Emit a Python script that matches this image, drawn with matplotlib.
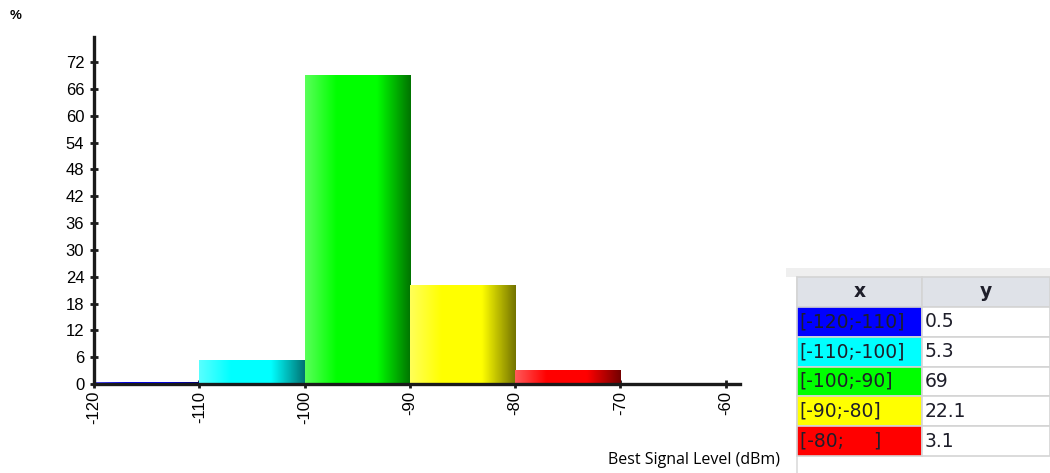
import numpy as np
import matplotlib.pyplot as plt
from matplotlib.colors import LinearSegmentedColormap, to_rgb
from matplotlib.patches import Rectangle

# bin edges (dBm) and share of samples (%)
bin_left = [-120, -110, -100, -90, -80]
bin_width = [10, 10, 10, 10, 10]
percent = [0.5, 5.3, 69, 22.1, 3.1]
bar_colors = ['#0000ff', '#00ffff', '#00ff00', '#ffff00', '#ff0000']
table_x = ['[-120;-110]', '[-110;-100]', '[-100;-90]', '[-90;-80]', '[-80;     ]']
table_y = ['0.5', '5.3', '69', '22.1', '3.1']

yticks = list(range(0, 73, 6))
xticks = [-120, -110, -100, -90, -80, -70, -60]

plt.rcParams['font.family'] = ['Liberation Sans', 'DejaVu Sans']

W, H = 1050, 473
fig = plt.figure(figsize=(W / 100, H / 100), dpi=100)


def px(x0, y0, x1, y1):
    """pixel box (top-left origin) -> figure rect"""
    return [x0 / W, 1 - y1 / H, (x1 - x0) / W, (y1 - y0) / H]


ax = fig.add_axes(px(94, 37, 740, 384))

bars = ax.bar(bin_left, percent, width=bin_width, align='edge',
              facecolor='none', edgecolor='none')


def shaded_cmap(c):
    r, g, b = to_rgb(c)
    light = (r + (1 - r) * 0.35, g + (1 - g) * 0.35, b + (1 - b) * 0.35)
    dark = (r * 0.45, g * 0.45, b * 0.45)
    return LinearSegmentedColormap.from_list(
        'shade', [(0, light), (0.3, (r, g, b)), (0.68, (r, g, b)), (1, dark)])


grad = np.linspace(0, 1, 256).reshape(1, -1)
for rect, col in zip(bars, bar_colors):
    x0, y0 = rect.get_x(), rect.get_y()
    im = ax.imshow(grad, cmap=shaded_cmap(col), aspect='auto',
                   extent=[x0, x0 + rect.get_width(), y0, y0 + rect.get_height()],
                   zorder=2)
    im.set_clip_path(rect)
ax.set_xlim(-120, -58.65)
ax.set_ylim(0, 77.6)

for s in ['top', 'right']:
    ax.spines[s].set_visible(False)
for s in ['left', 'bottom']:
    ax.spines[s].set_linewidth(2.4)
    ax.spines[s].set_color('#1a1a1a')
    ax.spines[s].set_zorder(3)

ax.set_yticks(yticks)
ax.set_xticks(xticks)
ax.set_xticklabels([str(v) for v in xticks], rotation=90)
ax.tick_params(axis='both', direction='inout', length=6, width=2,
               color='#1a1a1a', labelsize=12)
ax.tick_params(axis='y', pad=4)
ax.tick_params(axis='x', pad=2)

fig.text(10 / W, 1 - 16 / H, '%', fontsize=9.5, fontweight='bold', va='center')
fig.text(780 / W, 1 - 460 / H, 'Best Signal Level (dBm)', fontsize=11.5,
         ha='right', va='center', family=['Open Sans', 'DejaVu Sans'])

# data table on the right
bg = fig.add_axes(px(786, 268, 1050, 473))
bg.set_xlim(0, 264)
bg.set_ylim(205, 0)
bg.axis('off')
bg.add_patch(Rectangle((0, 0), 264, 9, facecolor='#efefef', edgecolor='none'))
bg.plot([10.5, 10.5], [9, 205], color='#dcdcdc', lw=1.2)

tax = fig.add_axes(px(797, 277, 1050, 456))
tax.axis('off')
cells = [[a, b] for a, b in zip(table_x, table_y)]
colours = [[c, 'white'] for c in bar_colors]
tbl = tax.table(cellText=cells, cellColours=colours, colLabels=['x', 'y'],
                colColours=['#dfe2e8', '#dfe2e8'], cellLoc='left',
                bbox=[0, 0, 1, 1], colWidths=[125, 128])
tbl.auto_set_font_size(False)
for (r, c), cell in tbl.get_celld().items():
    cell.set_edgecolor('#d4d4d4')
    cell.set_linewidth(1.2)
    txt = cell.get_text()
    txt.set_fontsize(13.5)
    txt.set_family(['DejaVu Sans'])
    txt.set_color('#1e1e2a')
    if r == 0:
        txt.set_fontweight('bold')
        txt.set_ha('center')
        cell._loc = 'center'
    else:
        cell.PAD = 0.02

fig.savefig('out.png', dpi=100)
